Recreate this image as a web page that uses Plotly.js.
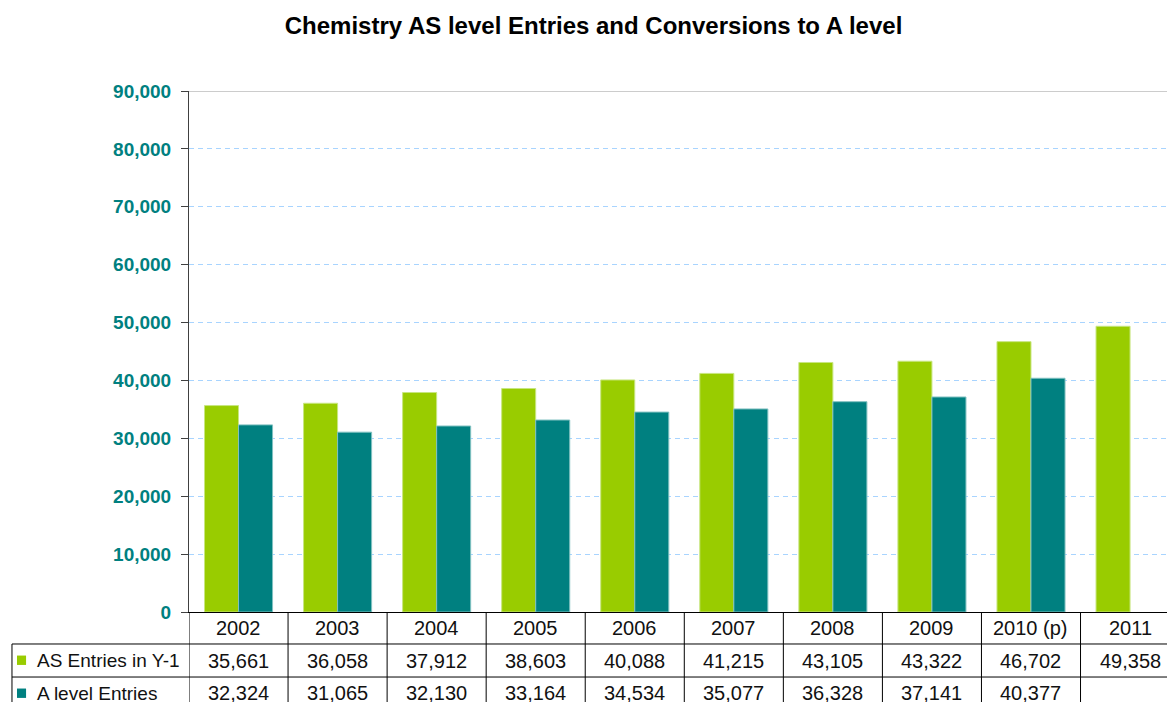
<!DOCTYPE html>
<html>
<head>
<meta charset="utf-8">
<script src="https://cdn.plot.ly/plotly-3.0.1.min.js"></script>
<style>html,body{margin:0;padding:0;background:#fff;}#chart{width:1167px;height:702px;}</style>
</head>
<body>
<div id="chart"></div>
<script>
const years = ['2002','2003','2004','2005','2006','2007','2008','2009','2010 (p)','2011'];
const asEntries = [35661,36058,37912,38603,40088,41215,43105,43322,46702,49358];
const aLevelEntries = [32324,31065,32130,33164,34534,35077,36328,37141,40377,null];
const seriesNames = ['AS Entries in Y-1','A level Entries'];
const seriesColors = ['#99CC00','#008080'];
const yTicks = [0,10000,20000,30000,40000,50000,60000,70000,80000,90000];

const FONT = 'Arial, "Liberation Sans", sans-serif';
const fmt = v => v.toLocaleString('en-US');

const traces = [
  {type:'bar', name:seriesNames[0], x:years, y:asEntries,
   marker:{color:seriesColors[0], line:{color:'#C8E680', width:1}}},
  {type:'bar', name:seriesNames[1], x:years, y:aLevelEntries,
   marker:{color:seriesColors[1], line:{color:'#80C0C0', width:1}}}
];

// table geometry (paper units, plot height 521px)
const rowB = [0, -0.0614, -0.1248, -0.188];
const rowC = [-0.0307, -0.0931, -0.1564];
const legLeft = -0.181;

const shapes = [];
const annotations = [];
// top border at max
shapes.push({type:'line', xref:'paper', yref:'y', x0:0, x1:1, y0:90000, y1:90000,
  line:{color:'#9A9A9A', width:1.2}});
// vertical borders
for (let k = 0; k <= years.length; k++) {
  shapes.push({type:'line', xref:'x', yref:'paper', x0:k-0.5, x1:k-0.5, y0:0, y1:rowB[3],
    line:{color:'#000', width:1}});
}
// legend column left border
shapes.push({type:'line', xref:'paper', yref:'paper', x0:legLeft, x1:legLeft, y0:rowB[1], y1:rowB[3],
  line:{color:'#000', width:1}});
// horizontal borders
[rowB[1], rowB[2], rowB[3]].forEach(yy => {
  shapes.push({type:'line', xref:'paper', yref:'paper', x0:legLeft, x1:1, y0:yy, y1:yy,
    line:{color:'#000', width:1}});
});
// legend squares and names
seriesNames.forEach((nm, i) => {
  const yc = rowC[i+1];
  shapes.push({type:'rect', xref:'paper', yref:'paper', x0:-0.1759, x1:-0.1666,
    y0:yc-0.0085, y1:yc+0.0095, fillcolor:seriesColors[i], line:{width:0}});
  annotations.push({xref:'paper', yref:'paper', x:-0.1575, y:yc, text:nm, showarrow:false,
    xanchor:'left', yanchor:'middle', font:{family:FONT, size:19, color:'#111'}});
});
// header and values (x given as category index on the category axis)
const rows = [asEntries, aLevelEntries];
years.forEach((yr, j) => {
  annotations.push({xref:'x', yref:'paper', x:j, y:rowC[0], text:yr, showarrow:false,
    xanchor:'center', yanchor:'middle', font:{family:FONT, size:20, color:'#111'}});
  rows.forEach((arr, i) => {
    if (arr[j] == null) return;
    annotations.push({xref:'x', yref:'paper', x:j, y:rowC[i+1], text:fmt(arr[j]), showarrow:false,
      xanchor:'center', yanchor:'middle', font:{family:FONT, size:20, color:'#111'}});
  });
});

const layout = {
  width:1167, height:702,
  margin:{l:189, r:0, t:91, b:90, pad:0},
  paper_bgcolor:'#fff', plot_bgcolor:'#fff',
  showlegend:false,
  barmode:'group', bargap:0.313, bargroupgap:0,
  title:{text:'Chemistry AS level Entries and Conversions to A level',
    font:{family:FONT, size:24, color:'#000', weight:'bold'},
    xref:'container', x:0.5086, xanchor:'center', yref:'container', y:0.963, yanchor:'middle'},
  xaxis:{type:'category', range:[-0.5, 9.373], showticklabels:false, ticks:'',
    showgrid:false, zeroline:false, showline:true, linecolor:'#000', linewidth:1, fixedrange:true},
  yaxis:{range:[0,90000], tickvals:yTicks, tickformat:',', ticks:'outside', ticklen:7,
    tickcolor:'#404040', tickwidth:1, ticklabelstandoff:6,
    tickfont:{family:FONT, size:19, color:'#008080', weight:'bold'},
    showgrid:true, gridcolor:'#A8D4FF', griddash:'5px,4px', gridwidth:1.2,
    zeroline:false, showline:true, linecolor:'#404040', linewidth:1, fixedrange:true},
  shapes:shapes, annotations:annotations
};

Plotly.newPlot('chart', traces, layout, {displayModeBar:false, staticPlot:true});
</script>
</body>
</html>
